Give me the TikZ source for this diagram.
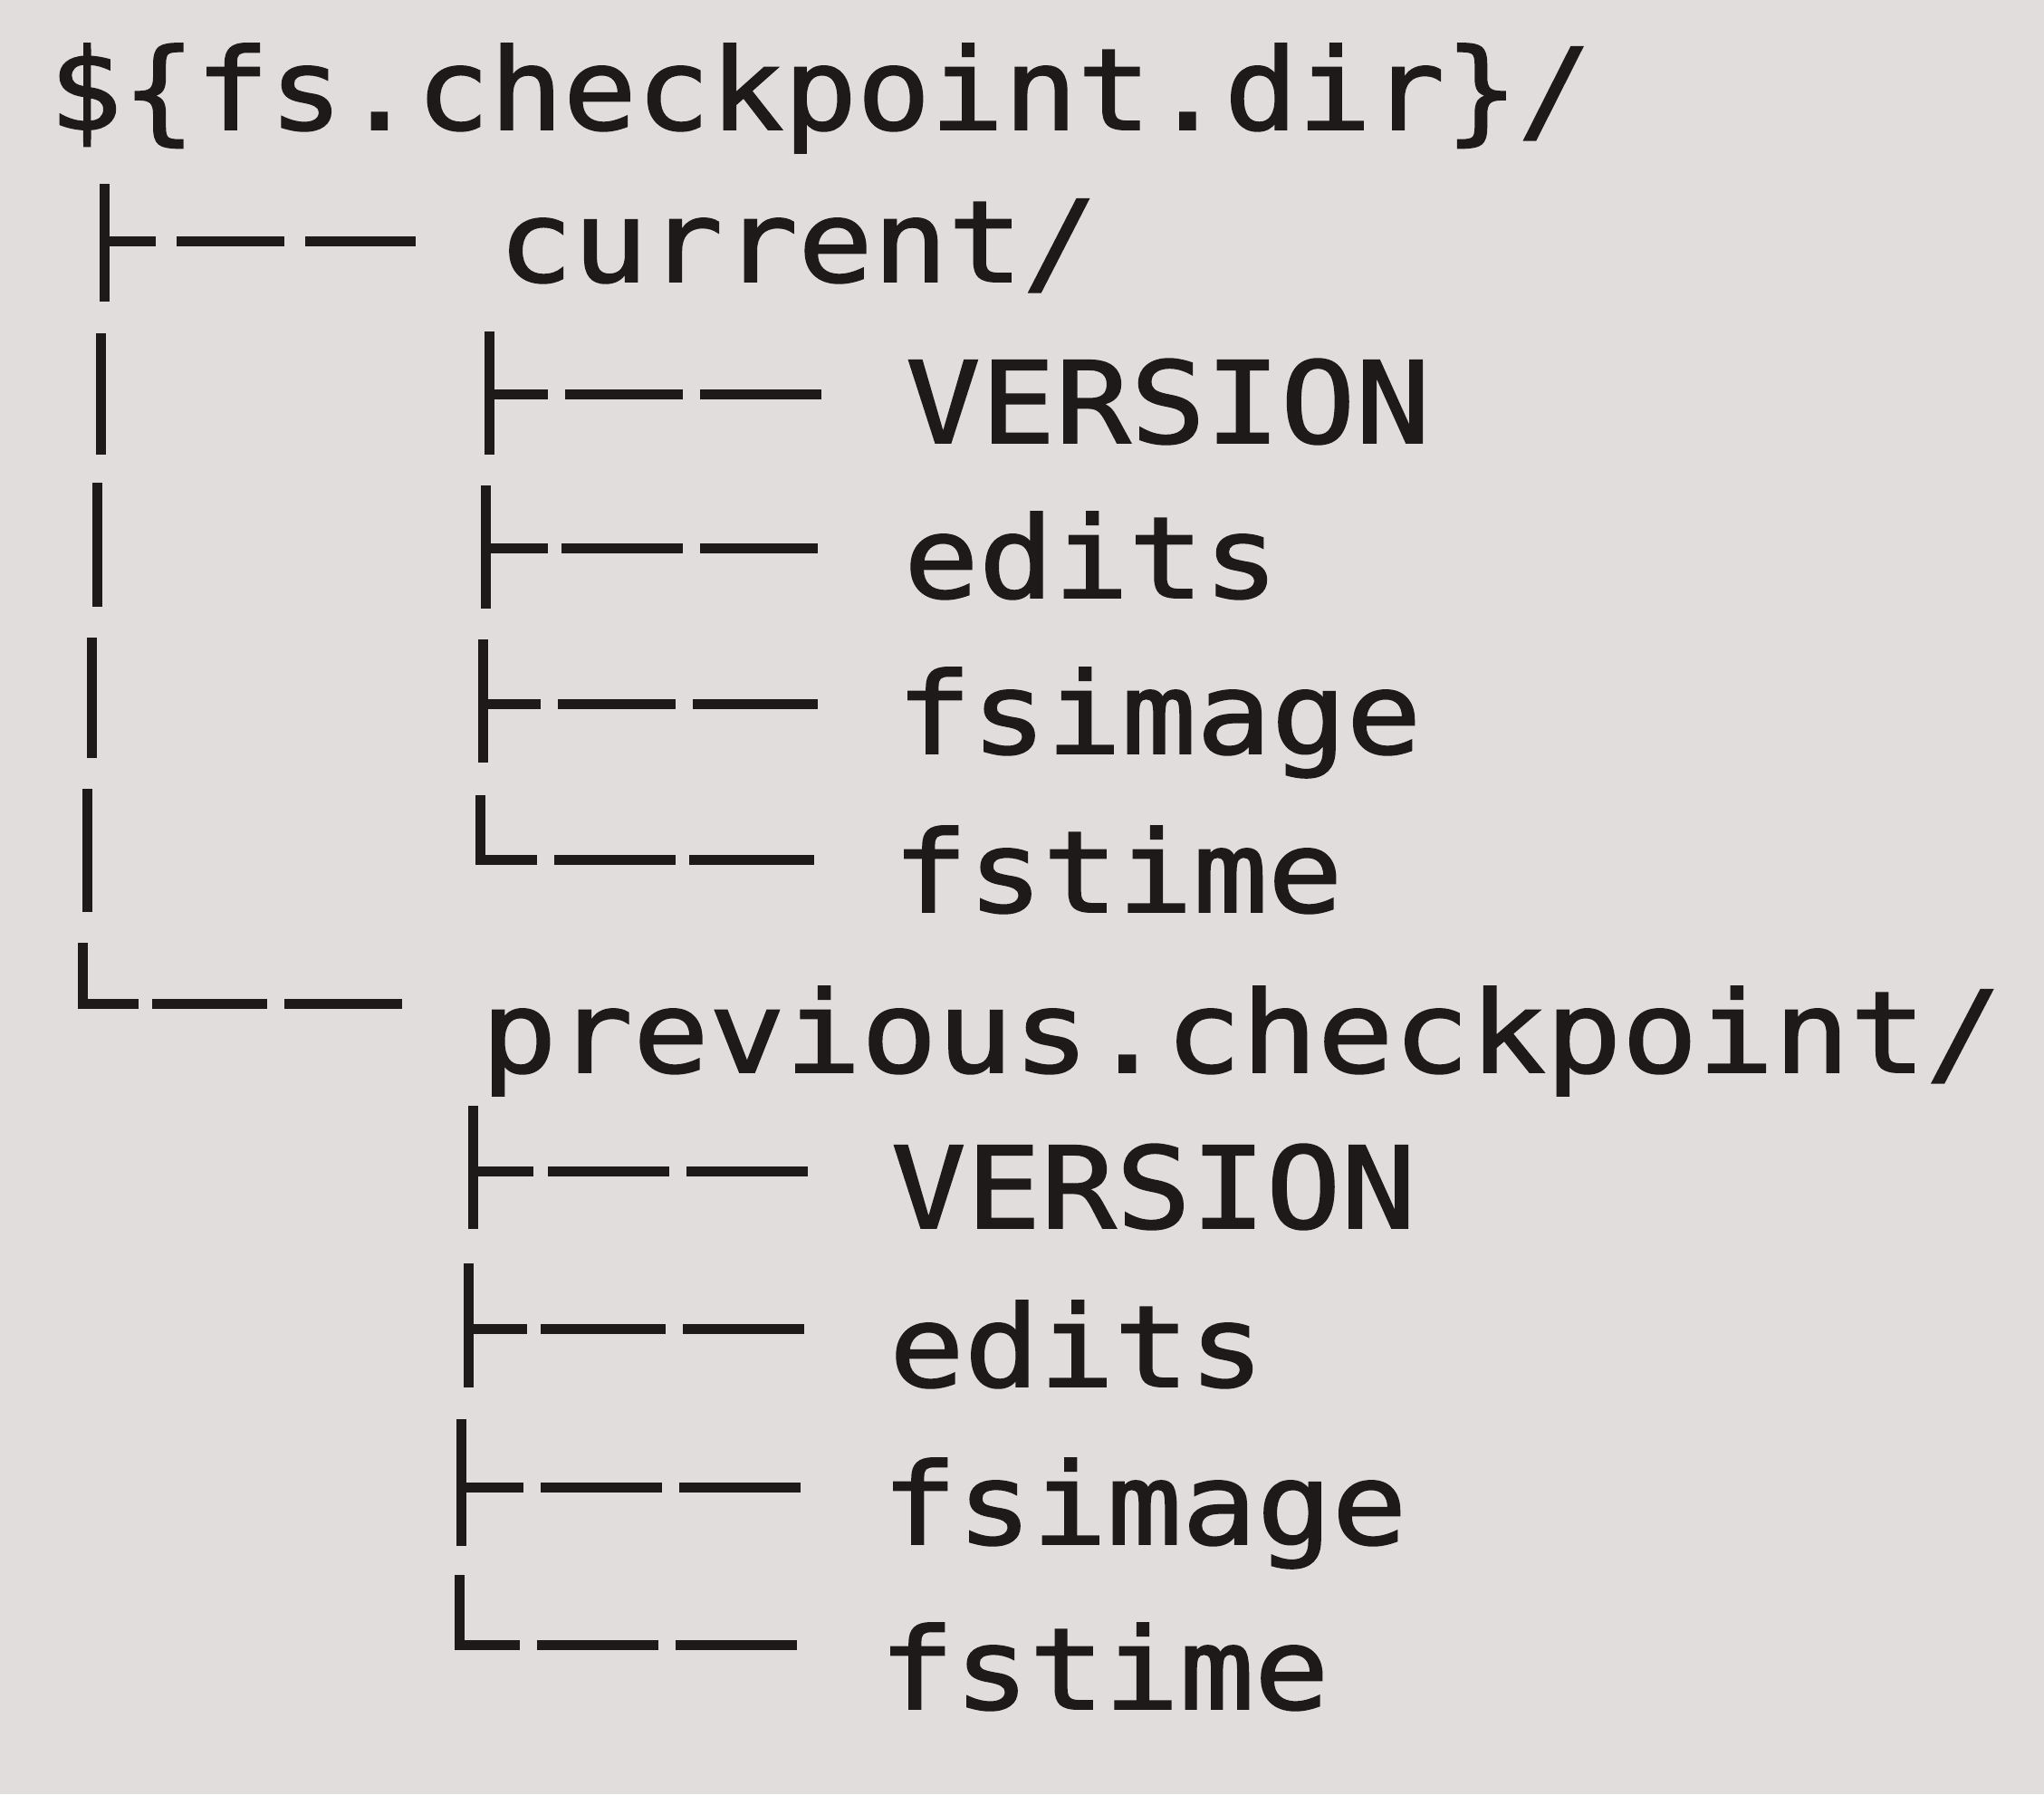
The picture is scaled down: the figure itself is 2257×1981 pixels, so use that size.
\documentclass[tikz,border=0pt]{standalone}
\usepackage{fontspec}
\newfontfamily\treefont[FakeStretch=1.10,FakeBold=1.5]{DejaVu Sans Mono}
\newfontfamily\rootfont[FakeStretch=1.078,FakeBold=1.5]{DejaVu Sans Mono}
\newfontfamily\prevfont[FakeStretch=1.116,FakeBold=1.5]{DejaVu Sans Mono}
\definecolor{paper}{RGB}{224,221,220}
\definecolor{ink}{RGB}{30,26,26}
\tikzset{
  lbl/.style={anchor=base west, inner sep=0pt, outer sep=0pt, text=ink,
    font=\treefont\fontsize{31.25}{36}\selectfont},
  lblroot/.style={lbl, font=\rootfont\fontsize{31.25}{36}\selectfont},
  lblprev/.style={lbl, font=\prevfont\fontsize{31.25}{36}\selectfont},
  br/.style={draw=ink, line width=2.75pt}
}
\begin{document}
\begin{tikzpicture}[x=0.25pt,y=-0.25pt]
\fill[paper] (0,0) rectangle (2257,1981);
\useasboundingbox (0,0) rectangle (2257,1981);
% texts
\node[lblroot] (root) at (54,143) {\$\{fs.checkpoint.dir\}/};
\node[lbl] (cur) at (550,311) {current/};
\node[lbl] (cv) at (1000,489) {VERSION};
\node[lbl] (ce) at (998,660) {edits};
\node[lbl] (cfi) at (990,832) {fsimage};
\node[lbl] (cft) at (986,1007) {fstime};
\node[lblprev] (prev) at (531,1184) {previous.checkpoint/};
\node[lbl] (pv) at (984,1356) {VERSION};
\node[lbl] (pe) at (982,1531) {edits};
\node[lbl] (pfi) at (974,1705) {fsimage};
\node[lbl] (pft) at (971,1887) {fstime};
% level 1 tree
\draw[br] (115,203) -- (115,333);
\draw[br] (115,266) -- (172,266);
\draw[br] (195,266) -- (314,266);
\draw[br] (337,266) -- (459,266);
\draw[br] (111,368) -- (111,502);
\draw[br] (107,533) -- (107,670);
\draw[br] (101,704) -- (101,837);
\draw[br] (96,871) -- (96,1007);
\draw[br] (91,1041) -- (91,1108) -- (153,1108);
\draw[br] (168,1108) -- (295,1108);
\draw[br] (314,1108) -- (444,1108);
% level 2 under current
\draw[br] (540,366) -- (540,502);
\draw[br] (540,435) -- (605,435);
\draw[br] (624,435) -- (754,435);
\draw[br] (773,435) -- (907,435);
\draw[br] (536,536) -- (536,672);
\draw[br] (536,605) -- (605,605);
\draw[br] (620,605) -- (754,605);
\draw[br] (773,605) -- (903,605);
\draw[br] (533,706) -- (533,842);
\draw[br] (533,777) -- (597,777);
\draw[br] (616,777) -- (746,777);
\draw[br] (765,777) -- (903,777);
\draw[br] (530,878) -- (530,949) -- (593,949);
\draw[br] (612,949) -- (746,949);
\draw[br] (761,949) -- (899,949);
% level 2 under previous.checkpoint
\draw[br] (522,1221) -- (522,1357);
\draw[br] (522,1293) -- (589,1293);
\draw[br] (605,1293) -- (739,1293);
\draw[br] (758,1293) -- (892,1293);
\draw[br] (517,1395) -- (517,1532);
\draw[br] (517,1467) -- (582,1467);
\draw[br] (597,1467) -- (735,1467);
\draw[br] (754,1467) -- (888,1467);
\draw[br] (509,1567) -- (509,1707);
\draw[br] (509,1642) -- (578,1642);
\draw[br] (597,1642) -- (731,1642);
\draw[br] (750,1642) -- (884,1642);
\draw[br] (507,1739) -- (507,1816) -- (574,1816);
\draw[br] (593,1816) -- (727,1816);
\draw[br] (746,1816) -- (880,1816);
\end{tikzpicture}
\end{document}
